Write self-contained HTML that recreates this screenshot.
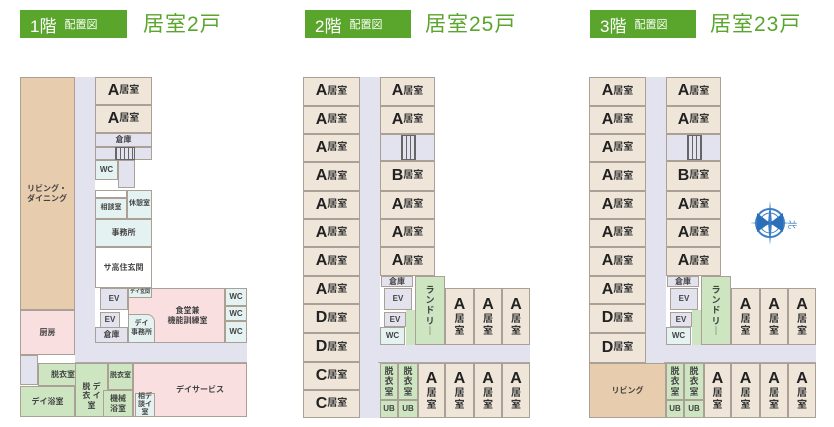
<!DOCTYPE html>
<html><head><meta charset="utf-8"><style>
body{margin:0;width:834px;height:427px;background:#fff;position:relative;overflow:hidden;font-family:"Liberation Sans","Noto Sans CJK JP",sans-serif;color:#333}
div{position:absolute;box-sizing:border-box}
.r{border:1px solid #aaa095;display:flex;align-items:center;justify-content:center;text-align:center;font-size:8px;line-height:1.15;font-weight:bold;color:#444;white-space:nowrap}
.t{background:#efe6d9}
.l{background:#e3e2ef}
.c{background:#e4f3f1}
.g{background:#cde6c1}
.p{background:#fadfe1}
.w{background:#fff}
.br{background:#e8ccae}
.a{font-size:16px;font-weight:bold;color:#222}
.k{font-size:10px;font-weight:bold;color:#333}
.v{flex-direction:column}
.hb{background:#5aa62d;color:#fff;height:28px;top:10px;display:flex;align-items:center;padding-left:10px;font-size:17px}
.hb small{font-size:11px;margin-left:8px}
.ht{top:8px;color:#5aa62d;font-size:21px;letter-spacing:1px}
.st{background:repeating-linear-gradient(90deg,#666 0 1px,transparent 1px 4px);border:1px solid #666;height:12px}
</style></head><body>
<!-- headers -->
<div class="hb" style="left:20px;width:107px">1階<small>配置図</small></div>
<div class="ht" style="left:143px">居室2戸</div>
<div class="hb" style="left:305px;width:106px">2階<small>配置図</small></div>
<div class="ht" style="left:425px">居室25戸</div>
<div class="hb" style="left:590px;width:106px">3階<small>配置図</small></div>
<div class="ht" style="left:710px">居室23戸</div>

<!-- FLOOR 1 -->
<div class="l" style="left:75px;top:77px;width:20px;height:286px"></div>
<div class="l" style="left:75px;top:343px;width:172px;height:20px;border-bottom:1px solid #aaa"></div>
<div class="r br" style="left:20px;top:77px;width:55px;height:233px;justify-content:flex-start;padding-left:6px;text-align:left">リビング・<br>ダイニング</div>
<div class="r p" style="left:20px;top:310px;width:55px;height:45px">厨房</div>
<div class="r t" style="left:95px;top:77px;width:57px;height:28px"><span class="a">A</span><span class="k">居室</span></div>
<div class="r t" style="left:95px;top:105px;width:57px;height:28px"><span class="a">A</span><span class="k">居室</span></div>
<div class="r l" style="left:95px;top:133px;width:57px;height:14px">倉庫</div>
<div class="r l" style="left:95px;top:147px;width:57px;height:13px"></div>
<div class="st" style="left:115px;top:147px;width:20px;height:13px"></div>
<div class="r c" style="left:95px;top:160px;width:23px;height:20px">WC</div>
<div class="r l" style="left:118px;top:160px;width:17px;height:28px"></div>
<div class="r w" style="left:95px;top:190px;width:32px;height:8px"></div>
<div class="r c" style="left:95px;top:198px;width:32px;height:21px;font-size:7px">相談室</div>
<div class="r c" style="left:127px;top:190px;width:25px;height:29px;font-size:7px">休憩室</div>
<div class="r c" style="left:95px;top:219px;width:57px;height:28px">事務所</div>
<div class="r w" style="left:95px;top:247px;width:57px;height:41px">サ高住玄関</div>
<div class="r l" style="left:100px;top:288px;width:28px;height:22px">EV</div>
<div class="r p" style="left:128px;top:288px;width:97px;height:55px;padding-left:22px">食堂兼<br>機能訓練室</div>
<div class="r c" style="left:128px;top:288px;width:24px;height:10px;font-size:5px;z-index:1">デイ玄関</div>
<div class="r c" style="left:225px;top:288px;width:22px;height:18px">WC</div>
<div class="r c" style="left:225px;top:306px;width:22px;height:15px">WC</div>
<div class="r c" style="left:225px;top:321px;width:22px;height:22px">WC</div>
<div class="r l" style="left:100px;top:312px;width:20px;height:16px">EV</div>
<div class="r l" style="left:95px;top:327px;width:33px;height:16px">倉庫</div>
<div class="r c" style="left:128px;top:314px;width:27px;height:29px;border-top-right-radius:8px;z-index:2;font-size:7px">デイ<br>事務所</div>
<div class="r l" style="left:20px;top:355px;width:18px;height:30px"></div>
<div class="r g" style="left:38px;top:363px;width:50px;height:23px">脱衣室</div>
<div class="r g" style="left:20px;top:386px;width:55px;height:31px">デイ浴室</div>
<div class="r g" style="left:75px;top:363px;width:33px;height:54px;padding-top:12px">脱 デ<br>衣 イ<br>室</div>
<div class="r g" style="left:108px;top:363px;width:25px;height:27px;font-size:7px">脱衣室</div>
<div class="r g" style="left:103px;top:390px;width:30px;height:27px">機械<br>浴室</div>
<div class="r p" style="left:133px;top:363px;width:114px;height:54px;padding-left:20px">デイサービス</div>
<div class="r c" style="left:135px;top:393px;width:20px;height:24px;font-size:7px">相デ<br>談イ<br>室</div>

<!-- FLOOR 2 -->
<div style="left:0;top:0;width:834px;height:427px">
<div class="l" style="left:360px;top:77px;width:20px;height:341px"></div>
<div class="l" style="left:378px;top:345px;width:152px;height:18px;border-bottom:1px solid #aaa"></div>
<div class="r t" style="left:303px;top:77px;width:57px;height:29px"><span class="a">A</span><span class="k">居室</span></div>
<div class="r t" style="left:303px;top:106px;width:57px;height:28px"><span class="a">A</span><span class="k">居室</span></div>
<div class="r t" style="left:303px;top:134px;width:57px;height:28px"><span class="a">A</span><span class="k">居室</span></div>
<div class="r t" style="left:303px;top:162px;width:57px;height:29px"><span class="a">A</span><span class="k">居室</span></div>
<div class="r t" style="left:303px;top:191px;width:57px;height:28px"><span class="a">A</span><span class="k">居室</span></div>
<div class="r t" style="left:303px;top:219px;width:57px;height:28px"><span class="a">A</span><span class="k">居室</span></div>
<div class="r t" style="left:303px;top:247px;width:57px;height:29px"><span class="a">A</span><span class="k">居室</span></div>
<div class="r t" style="left:303px;top:276px;width:57px;height:28px"><span class="a">A</span><span class="k">居室</span></div>
<div class="r t" style="left:303px;top:304px;width:57px;height:29px"><span class="a">D</span><span class="k">居室</span></div>
<div class="r t" style="left:303px;top:333px;width:57px;height:29px"><span class="a">D</span><span class="k">居室</span></div>
<div class="r t" style="left:303px;top:362px;width:57px;height:28px"><span class="a">C</span><span class="k">居室</span></div>
<div class="r t" style="left:303px;top:390px;width:57px;height:28px"><span class="a">C</span><span class="k">居室</span></div>
<div class="r t" style="left:380px;top:77px;width:55px;height:29px"><span class="a">A</span><span class="k">居室</span></div>
<div class="r t" style="left:380px;top:106px;width:55px;height:28px"><span class="a">A</span><span class="k">居室</span></div>
<div class="r l" style="left:380px;top:134px;width:55px;height:27px"></div>
<div class="st" style="left:401px;top:135px;width:15px;height:25px"></div>
<div class="r t" style="left:380px;top:161px;width:55px;height:30px"><span class="a">B</span><span class="k">居室</span></div>
<div class="r t" style="left:380px;top:191px;width:55px;height:28px"><span class="a">A</span><span class="k">居室</span></div>
<div class="r t" style="left:380px;top:219px;width:55px;height:28px"><span class="a">A</span><span class="k">居室</span></div>
<div class="r t" style="left:380px;top:247px;width:55px;height:29px"><span class="a">A</span><span class="k">居室</span></div>
<div class="r l" style="left:381px;top:276px;width:32px;height:11px">倉庫</div>
<div class="r l" style="left:384px;top:288px;width:28px;height:22px">EV</div>
<div class="g" style="left:406px;top:310px;width:10px;height:35px"></div>
<div class="r g v" style="left:415px;top:276px;width:30px;height:69px;font-size:9px">ラ<br>ン<br>ド<br>リ<br>｜</div>
<div class="r l" style="left:384px;top:312px;width:22px;height:15px">EV</div>
<div class="r c" style="left:380px;top:327px;width:25px;height:18px">WC</div>
<div class="r t v" style="left:445px;top:288px;width:29px;height:57px"><span class="a">A</span><span class="k">居<br>室</span></div>
<div class="r t v" style="left:474px;top:288px;width:28px;height:57px"><span class="a">A</span><span class="k">居<br>室</span></div>
<div class="r t v" style="left:502px;top:288px;width:28px;height:57px"><span class="a">A</span><span class="k">居<br>室</span></div>
<div class="r g" style="left:380px;top:363px;width:18px;height:37px;font-size:9px">脱<br>衣<br>室</div>
<div class="r g" style="left:398px;top:363px;width:20px;height:37px;font-size:9px">脱<br>衣<br>室</div>
<div class="r g" style="left:380px;top:400px;width:18px;height:18px">UB</div>
<div class="r g" style="left:398px;top:400px;width:20px;height:18px">UB</div>
<div class="r t v" style="left:418px;top:363px;width:27px;height:55px"><span class="a">A</span><span class="k">居<br>室</span></div>
<div class="r t v" style="left:445px;top:363px;width:29px;height:55px"><span class="a">A</span><span class="k">居<br>室</span></div>
<div class="r t v" style="left:474px;top:363px;width:28px;height:55px"><span class="a">A</span><span class="k">居<br>室</span></div>
<div class="r t v" style="left:502px;top:363px;width:28px;height:55px"><span class="a">A</span><span class="k">居<br>室</span></div>
</div>

<!-- FLOOR 3 -->
<div style="left:572px;top:0;width:262px;height:427px">
<div class="l" style="left:74px;top:77px;width:20px;height:286px"></div>
<div class="l" style="left:92px;top:345px;width:152px;height:18px;border-bottom:1px solid #aaa"></div>
<div class="r t" style="left:17px;top:77px;width:57px;height:29px"><span class="a">A</span><span class="k">居室</span></div>
<div class="r t" style="left:17px;top:106px;width:57px;height:28px"><span class="a">A</span><span class="k">居室</span></div>
<div class="r t" style="left:17px;top:134px;width:57px;height:28px"><span class="a">A</span><span class="k">居室</span></div>
<div class="r t" style="left:17px;top:162px;width:57px;height:29px"><span class="a">A</span><span class="k">居室</span></div>
<div class="r t" style="left:17px;top:191px;width:57px;height:28px"><span class="a">A</span><span class="k">居室</span></div>
<div class="r t" style="left:17px;top:219px;width:57px;height:28px"><span class="a">A</span><span class="k">居室</span></div>
<div class="r t" style="left:17px;top:247px;width:57px;height:29px"><span class="a">A</span><span class="k">居室</span></div>
<div class="r t" style="left:17px;top:276px;width:57px;height:28px"><span class="a">A</span><span class="k">居室</span></div>
<div class="r t" style="left:17px;top:304px;width:57px;height:29px"><span class="a">D</span><span class="k">居室</span></div>
<div class="r t" style="left:17px;top:333px;width:57px;height:30px"><span class="a">D</span><span class="k">居室</span></div>
<div class="r br" style="left:17px;top:363px;width:77px;height:55px">リビング</div>
<div class="r t" style="left:94px;top:77px;width:55px;height:29px"><span class="a">A</span><span class="k">居室</span></div>
<div class="r t" style="left:94px;top:106px;width:55px;height:28px"><span class="a">A</span><span class="k">居室</span></div>
<div class="r l" style="left:94px;top:134px;width:55px;height:27px"></div>
<div class="st" style="left:115px;top:135px;width:15px;height:25px"></div>
<div class="r t" style="left:94px;top:161px;width:55px;height:30px"><span class="a">B</span><span class="k">居室</span></div>
<div class="r t" style="left:94px;top:191px;width:55px;height:28px"><span class="a">A</span><span class="k">居室</span></div>
<div class="r t" style="left:94px;top:219px;width:55px;height:28px"><span class="a">A</span><span class="k">居室</span></div>
<div class="r t" style="left:94px;top:247px;width:55px;height:29px"><span class="a">A</span><span class="k">居室</span></div>
<div class="r l" style="left:95px;top:276px;width:32px;height:11px">倉庫</div>
<div class="r l" style="left:98px;top:288px;width:28px;height:22px">EV</div>
<div class="g" style="left:120px;top:310px;width:10px;height:35px"></div>
<div class="r g v" style="left:129px;top:276px;width:30px;height:69px;font-size:9px">ラ<br>ン<br>ド<br>リ<br>｜</div>
<div class="r l" style="left:98px;top:312px;width:22px;height:15px">EV</div>
<div class="r c" style="left:94px;top:327px;width:25px;height:18px">WC</div>
<div class="r t v" style="left:159px;top:288px;width:29px;height:57px"><span class="a">A</span><span class="k">居<br>室</span></div>
<div class="r t v" style="left:188px;top:288px;width:28px;height:57px"><span class="a">A</span><span class="k">居<br>室</span></div>
<div class="r t v" style="left:216px;top:288px;width:28px;height:57px"><span class="a">A</span><span class="k">居<br>室</span></div>
<div class="r g" style="left:94px;top:363px;width:18px;height:37px;font-size:9px">脱<br>衣<br>室</div>
<div class="r g" style="left:112px;top:363px;width:20px;height:37px;font-size:9px">脱<br>衣<br>室</div>
<div class="r g" style="left:94px;top:400px;width:18px;height:18px">UB</div>
<div class="r g" style="left:112px;top:400px;width:20px;height:18px">UB</div>
<div class="r t v" style="left:132px;top:363px;width:27px;height:55px"><span class="a">A</span><span class="k">居<br>室</span></div>
<div class="r t v" style="left:159px;top:363px;width:29px;height:55px"><span class="a">A</span><span class="k">居<br>室</span></div>
<div class="r t v" style="left:188px;top:363px;width:28px;height:55px"><span class="a">A</span><span class="k">居<br>室</span></div>
<div class="r t v" style="left:216px;top:363px;width:28px;height:55px"><span class="a">A</span><span class="k">居<br>室</span></div>
</div>

<!-- compass -->
<svg style="position:absolute;left:746px;top:198px" width="54" height="50" viewBox="0 0 54 50">
<circle cx="24" cy="25" r="14" fill="#fff" stroke="#3a7fc4" stroke-width="2"/>
<circle cx="24" cy="25" r="10" fill="none" stroke="#3a7fc4" stroke-width="1"/>
<polygon points="24,3 26,25 24,47 22,25" fill="#3a7fc4"/>
<polygon points="4,25 24,23 44,25 24,27" fill="#3a7fc4"/>
<polygon points="11,15 24,25 11,34" fill="#2a6fb8"/>
<polygon points="37,15 24,25 37,34" fill="#2a6fb8"/>
<text x="44" y="29" font-size="9" fill="#3a7fc4" font-family="Noto Sans CJK JP,sans-serif" transform="rotate(90 47 25)">北</text>
</svg>
</body></html>
